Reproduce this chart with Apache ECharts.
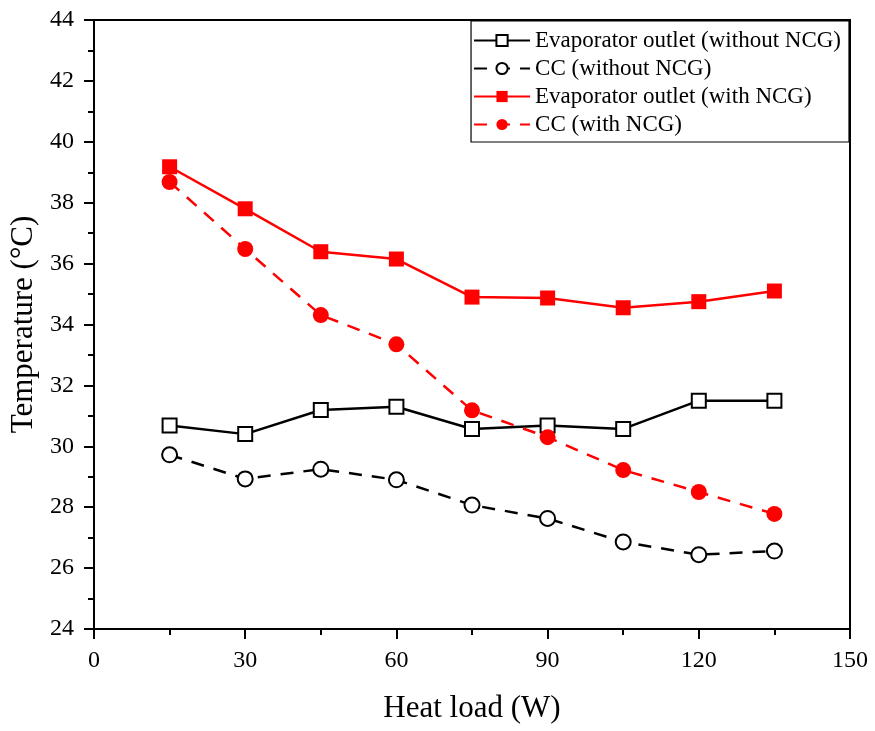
<!DOCTYPE html>
<html>
<head>
<meta charset="utf-8">
<script src="https://cdn.jsdelivr.net/npm/echarts@6/dist/echarts.min.js"></script>
<style>
  html, body { margin: 0; padding: 0; background: #fff; }
  #main { width: 875px; height: 731px; }
</style>
</head>
<body>
<div id="main"></div>
<script>
  // heat load (W)
  var heatLoad = [15, 30, 45, 60, 75, 90, 105, 120, 135];
  // temperatures (°C)
  var evapNoNcg = [30.68, 30.40, 31.19, 31.30, 30.57, 30.68, 30.57, 31.50, 31.50];
  var ccNoNcg = [29.72, 28.93, 29.25, 28.90, 28.07, 27.63, 26.86, 26.44, 26.56];
  var evapNcg = [39.18, 37.80, 36.39, 36.15, 34.90, 34.87, 34.55, 34.75, 35.10];
  var ccNcg = [38.68, 36.48, 34.31, 33.35, 31.18, 30.30, 29.22, 28.50, 27.78];

  var names = [
    'Evaporator outlet (without NCG)',
    'CC (without NCG)',
    'Evaporator outlet (with NCG)',
    'CC (with NCG)'
  ];

  function pairs(ys) {
    return heatLoad.map(function (x, i) { return [x, ys[i]]; });
  }

  var serif = '"Liberation Serif", "DejaVu Serif", serif';
  var myChart = echarts.init(document.getElementById('main'));

  var option = {
    animation: false,
    backgroundColor: '#fff',
    textStyle: { fontFamily: serif, color: '#000' },
    grid: {
      left: 94, right: 25, top: 20, bottom: 102,
      show: true, borderColor: '#000', borderWidth: 2
    },
    legend: {
      orient: 'vertical',
      right: 26, top: 21,
      padding: [8, 8, 6, 2],
      itemWidth: 56, itemHeight: 14, itemGap: 5,
      borderColor: '#000', borderWidth: 1.2,
      textStyle: { fontFamily: serif, fontSize: 23, color: '#000' },
      data: names
    },
    xAxis: {
      type: 'value',
      min: 0, max: 150, interval: 30,
      name: 'Heat load (W)',
      nameLocation: 'middle', nameGap: 64,
      nameTextStyle: { fontFamily: serif, fontSize: 31, color: '#000' },
      axisLine: { lineStyle: { color: '#000', width: 2 } },
      axisTick: { inside: false, length: 10, lineStyle: { color: '#000', width: 2 } },
      minorTick: { show: true, splitNumber: 2, length: 6, lineStyle: { color: '#000', width: 2 } },
      axisLabel: { fontFamily: serif, fontSize: 24, color: '#000', margin: 20 },
      splitLine: { show: false }
    },
    yAxis: {
      type: 'value',
      min: 24, max: 44, interval: 2,
      name: 'Temperature (°C)',
      nameLocation: 'middle', nameGap: 52,
      nameTextStyle: { fontFamily: serif, fontSize: 31, color: '#000' },
      axisLine: { lineStyle: { color: '#000', width: 2 } },
      axisTick: { inside: false, length: 10, lineStyle: { color: '#000', width: 2 } },
      minorTick: { show: true, splitNumber: 2, length: 6, lineStyle: { color: '#000', width: 2 } },
      axisLabel: { fontFamily: serif, fontSize: 24, color: '#000', margin: 20 },
      splitLine: { show: false }
    },
    series: [
      {
        name: names[0], type: 'line', data: pairs(evapNoNcg),
        symbol: 'rect', symbolSize: 14,
        lineStyle: { color: '#000', width: 2.5 },
        itemStyle: { color: '#fff', borderColor: '#000', borderWidth: 2 }
      },
      {
        name: names[1], type: 'line', data: pairs(ccNoNcg),
        symbol: 'circle', symbolSize: 15,
        lineStyle: { color: '#000', width: 2.5, type: [13, 10] },
        itemStyle: { color: '#fff', borderColor: '#000', borderWidth: 2 }
      },
      {
        name: names[2], type: 'line', data: pairs(evapNcg),
        symbol: 'rect', symbolSize: 15,
        lineStyle: { color: '#ff0000', width: 2.5 },
        itemStyle: { color: '#ff0000' }
      },
      {
        name: names[3], type: 'line', data: pairs(ccNcg),
        symbol: 'circle', symbolSize: 16,
        lineStyle: { color: '#ff0000', width: 2.5, type: [13, 10] },
        itemStyle: { color: '#ff0000' }
      }
    ]
  };
  myChart.setOption(option);
</script>
</body>
</html>
